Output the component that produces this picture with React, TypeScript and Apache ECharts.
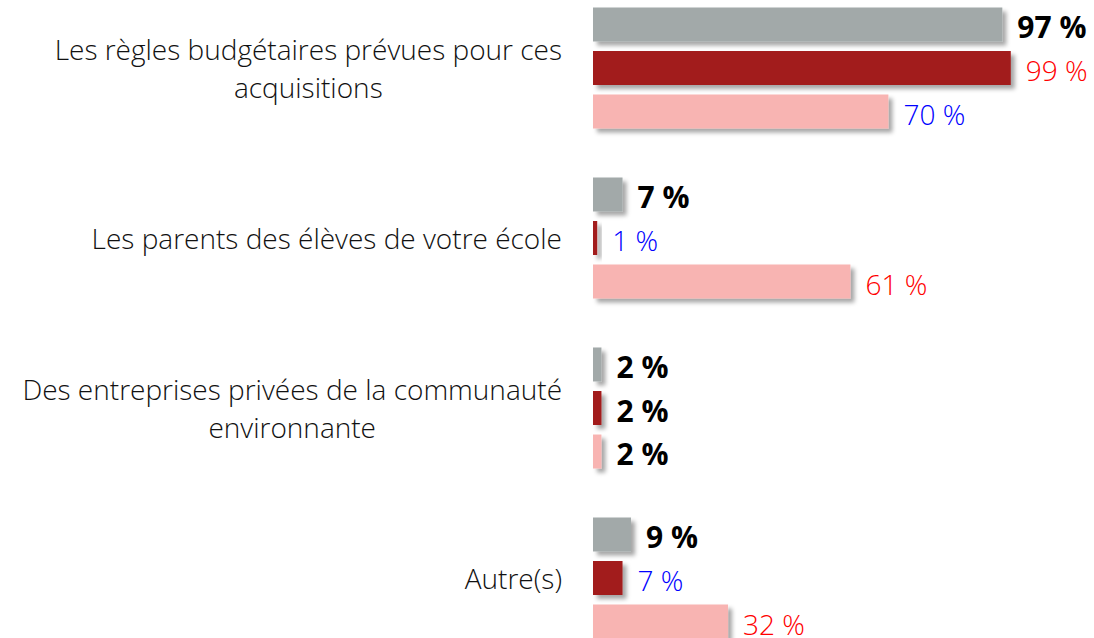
import React, { useEffect, useRef } from "react";
import * as echarts from "echarts";

const categories = [
  "Les règles budgétaires prévues pour ces\nacquisitions",
  "Les parents des élèves de votre école",
  "Des entreprises privées de la communauté\nenvironnante",
  "Autre(s)",
];
const seriesGray = [97, 7, 2, 9];
const seriesDark = [99, 1, 2, 7];
const seriesPink = [70, 61, 2, 32];
// label style per point: "b" = bold black, "r" = red, "u" = blue
const labelGray = ["b", "b", "b", "b"];
const labelDark = ["r", "u", "b", "u"];
const labelPink = ["u", "r", "b", "r"];

const FONT = "'Open Sans', 'Noto Sans', sans-serif";

function labelFor(kind: string) {
  if (kind === "b") {
    return { color: "#000000", fontWeight: 700, fontSize: 30 };
  }
  return {
    color: kind === "r" ? "#FF0000" : "#0000FF",
    fontWeight: 300,
    fontSize: 28,
  };
}

function makeSeries(name: string, values: number[], kinds: string[], color: string) {
  return {
    name,
    type: "bar",
    barWidth: 34,
    barGap: "28%",
    itemStyle: {
      color,
      shadowBlur: 4,
      shadowOffsetX: 4,
      shadowOffsetY: 4,
      shadowColor: "rgba(0,0,0,0.35)",
    },
    data: values.map((v, i) => ({
      value: v,
      label: labelFor(kinds[i]),
    })),
    label: {
      show: true,
      position: "right",
      distance: 15,
      offset: [0, 2],
      fontFamily: FONT,
      formatter: (p: any) => `${p.value} %`,
    },
  };
}

export default function App() {
  const ref = useRef<HTMLDivElement>(null);
  useEffect(() => {
    if (!ref.current) return;
    const chart = echarts.init(ref.current, undefined, { renderer: "svg" });
    chart.setOption({
      animation: false,
      backgroundColor: "#ffffff",
      grid: { left: 593, right: 79, top: 0, bottom: 0, containLabel: false },
      xAxis: { type: "value", min: 0, max: 100, show: false },
      yAxis: {
        type: "category",
        inverse: true,
        data: categories,
        axisLine: { show: false },
        axisTick: { show: false },
        axisLabel: {
          margin: 31,
          align: "right",
          formatter: (v: string) =>
            v
              .split("\n")
              .map((l) => `{c|${l}}`)
              .join("\n"),
          rich: {
            c: {
              align: "center",
              fontFamily: FONT,
              fontWeight: 300,
              fontSize: 28,
              lineHeight: 38,
              color: "#111111",
            },
          },
        },
      },
      series: [
        makeSeries("A", seriesGray, labelGray, "#A2A9A9"),
        makeSeries("B", seriesDark, labelDark, "#A21C1C"),
        makeSeries("C", seriesPink, labelPink, "#F8B4B2"),
      ],
    });
    return () => chart.dispose();
  }, []);
  return (
    <div
      style={{
        position: "absolute",
        left: 0,
        top: 0,
        width: 1094,
        height: 638,
        overflow: "hidden",
        background: "#fff",
      }}
    >
      <div
        ref={ref}
        style={{ position: "absolute", left: 0, top: -17.5, width: 1094, height: 680 }}
      />
    </div>
  );
}
